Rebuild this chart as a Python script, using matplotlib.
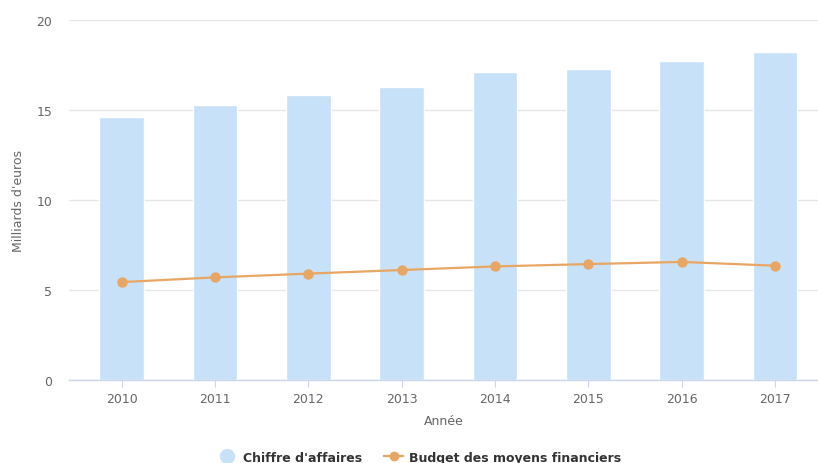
import matplotlib
matplotlib.use("Agg")
import matplotlib.pyplot as plt
from matplotlib.lines import Line2D

years = ["2010", "2011", "2012", "2013", "2014", "2015", "2016", "2017"]
chiffre_affaires = [14.6, 15.3, 15.85, 16.28, 17.13, 17.26, 17.7, 18.22]
budget_moyens = [5.44, 5.70, 5.91, 6.11, 6.31, 6.44, 6.56, 6.35]

bar_color = "#c7e2f8"
line_color = "#e8a665"
text_color = "#666666"

plt.rcParams['font.family'] = ['DejaVu Sans']

fig = plt.figure(figsize=(8.18, 4.64), dpi=100)
ax = fig.add_axes([69/818, 1-381/464, 1-69/818, (381-21)/464])

x = list(range(len(years)))
ax.bar(x, chiffre_affaires, width=0.48, color=bar_color, edgecolor="white",
       linewidth=1, zorder=2)
ax.plot(x, budget_moyens, color=line_color, linewidth=1.6, marker="o",
        markersize=6.5, zorder=3)

ax.set_ylim(0, 20)
ax.set_xlim(-0.565, 7.46)
ax.set_yticks([0, 5, 10, 15, 20])
ax.set_xticks(x)
ax.set_xticklabels(years)
ax.yaxis.grid(True, color="#e6e6e6", linewidth=1, zorder=0)
ax.set_axisbelow(True)
for s in ["top", "right", "left"]:
    ax.spines[s].set_visible(False)
ax.spines["bottom"].set_color("#ccd6eb")
ax.spines["bottom"].set_linewidth(1)
ax.tick_params(axis="y", length=0, pad=12, labelsize=9, labelcolor=text_color)
ax.tick_params(axis="x", length=5, color="#ccd6eb", pad=4, labelsize=9,
               labelcolor=text_color)
ax.set_xlabel("Année", fontsize=9, color=text_color, labelpad=6)
ax.set_ylabel("Milliards d'euros", fontsize=9, color=text_color, labelpad=8)

handles = [
    Line2D([0], [0], marker="o", color="none", markerfacecolor=bar_color,
           markeredgecolor=bar_color, markersize=10),
    Line2D([0], [0], marker="o", color=line_color, markersize=6, linewidth=1.6),
]
fig.legend(handles, ["Chiffre d'affaires", "Budget des moyens financiers"],
           loc="lower center", bbox_to_anchor=(0.513, -0.026), ncol=2,
           frameon=False, handlelength=1.5, handletextpad=0.5, columnspacing=1.8,
           prop={"weight": "bold", "size": 9}, labelcolor="#333333")

fig.savefig("out.png", dpi=100)
